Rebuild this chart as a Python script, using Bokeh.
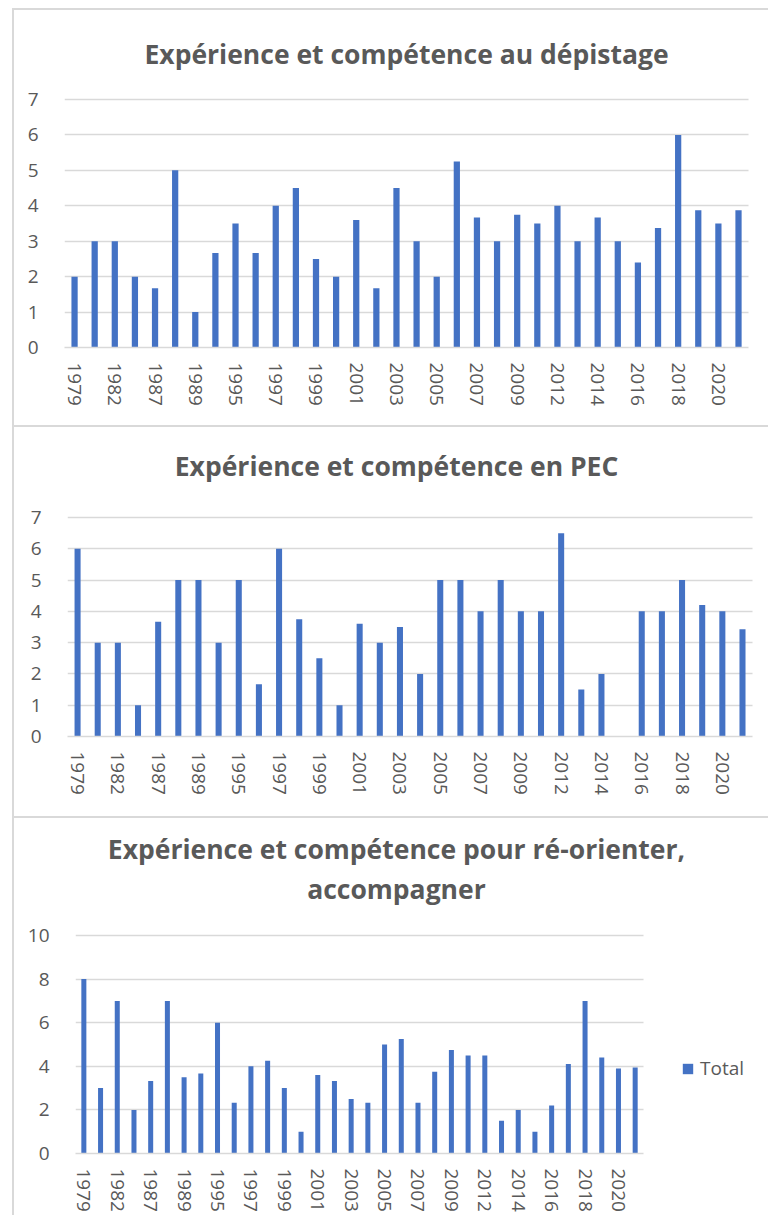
from bokeh.plotting import figure
from bokeh.models import (Range1d, FixedTicker, Label, Legend, LegendItem)
from bokeh.embed import file_html
from bokeh.resources import INLINE

nan = float("nan")

years = ["1979", "1980", "1982", "1985", "1987", "1988", "1989", "1990",
         "1995", "1996", "1997", "1998", "1999", "2000", "2001", "2002",
         "2003", "2004", "2005", "2006", "2007", "2008", "2009", "2010",
         "2012", "2013", "2014", "2015", "2016", "2017", "2018", "2019",
         "2020", "2021"]

depistage = [2, 3, 3, 2, 1.67, 5, 1, 2.67, 3.5, 2.67, 4, 4.5, 2.5, 2, 3.6, 1.67,
             4.5, 3, 2, 5.25, 3.67, 3, 3.75, 3.5, 4, 3, 3.67, 3, 2.4, 3.375,
             6, 3.875, 3.5, 3.875]
pec = [6, 3, 3, 1, 3.67, 5, 5, 3, 5, 1.67, 6, 3.75, 2.5, 1, 3.6, 3,
       3.5, 2, 5, 5, 4, 5, 4, 4, 6.5, 1.5, 2, nan, 4, 4, 5, 4.2, 4, 3.43]
orienter = [8, 3, 7, 2, 3.33, 7, 3.5, 3.67, 6, 2.33, 4, 4.25, 3, 1, 3.6, 3.33,
            2.5, 2.33, 5, 5.25, 2.33, 3.75, 4.75, 4.5, 4.5, 1.5, 2, 1, 2.2, 4.1,
            7, 4.4, 3.9, 3.95]

titles1 = ["Expérience et compétence au dépistage"]
titles2 = ["Expérience et compétence en PEC"]
titles3 = ["Expérience et compétence pour ré-orienter,", "accompagner"]
legend_label = "Total"

BAR = "#4472C4"
TXT = "#595959"
GRID = "#d9d9d9"
FONT = "Open Sans"

idx = list(range(len(years)))
n = len(years)


def panel(values, h, ymax, step, ml, mb, x_end, y_end, titles, title_x,
          title_y, bar_w, top_margin, legend_loc=None):
    p = figure(x_range=Range1d(-0.5, x_end), y_range=Range1d(0, y_end),
               width=756, height=h, output_backend="svg",
               toolbar_location=None, title=None,
               min_border_left=ml, min_border_right=0,
               min_border_top=0, min_border_bottom=mb,
               outline_line_color=None, background_fill_color="white",
               border_fill_color="white",
               margin=(top_margin, 0, 0, 12),
               styles={"border-left": "2px solid #d9d9d9",
                       "border-top": "2px solid #d9d9d9"})
    r = p.vbar(x=idx, top=values, width=bar_w, fill_color=BAR,
               line_color=None)
    yt = list(range(0, ymax + 1, step))
    p.xgrid.visible = False
    p.ygrid.ticker = FixedTicker(ticks=yt)
    p.ygrid.grid_line_color = GRID
    p.ygrid.grid_line_width = 1.3
    p.ygrid.cross_bounds = (-0.5, n - 0.5)
    p.yaxis.ticker = FixedTicker(ticks=yt)
    p.yaxis.axis_line_color = None
    p.yaxis.major_tick_line_color = None
    p.yaxis.minor_tick_line_color = None
    p.yaxis.major_label_standoff = 20
    p.yaxis.major_label_text_font = FONT
    p.yaxis.major_label_text_font_size = "19px"
    p.yaxis.major_label_text_color = TXT
    p.xaxis.ticker = FixedTicker(ticks=idx[::2])
    p.xaxis.bounds = (-0.5, n - 0.5)
    p.xaxis.axis_line_color = GRID
    p.xaxis.axis_line_width = 1.3
    p.xaxis.major_tick_line_color = None
    p.xaxis.minor_tick_line_color = None
    p.xaxis.major_label_orientation = "vertical"
    p.xaxis.major_label_standoff = 9
    p.xaxis.major_label_text_font = FONT
    p.xaxis.major_label_text_font_size = "19px"
    p.xaxis.major_label_text_color = TXT
    p.xaxis.major_label_overrides = {i: years[i] for i in idx}
    for t, ty in zip(titles, title_y):
        p.add_layout(Label(x=title_x, y=ty, text=t,
                           text_align="center", text_baseline="middle",
                           text_font=FONT, text_font_style="bold",
                           text_font_size="26.5px", text_color=TXT))
    if legend_loc is not None:
        lg = Legend(items=[LegendItem(label=legend_label, renderers=[r])],
                    location=legend_loc, padding=0, margin=0,
                    border_line_color=None, background_fill_alpha=0,
                    glyph_width=13, glyph_height=13, label_standoff=6,
                    label_text_font=FONT, label_text_font_size="19px",
                    label_text_color=TXT)
        p.add_layout(lg)
    return p


p1 = panel(depistage, 417, 7, 1, 50, 80, 34.59, 9.512, titles1, 16.5, [8.28],
           0.31, 8)
p2 = panel(pec, 391, 7, 1, 53, 82, 34.39, 9.876, titles2, 15.83, [8.63],
           0.3, 0)
p3 = panel(orienter, 399, 10, 2, 61, 64, 41.1, 15.367, titles3, 18.71,
           [13.95, 12.12], 0.3, 0, legend_loc=(606, 72))

open("out.html", "w").write(file_html([p1, p2, p3], INLINE))
